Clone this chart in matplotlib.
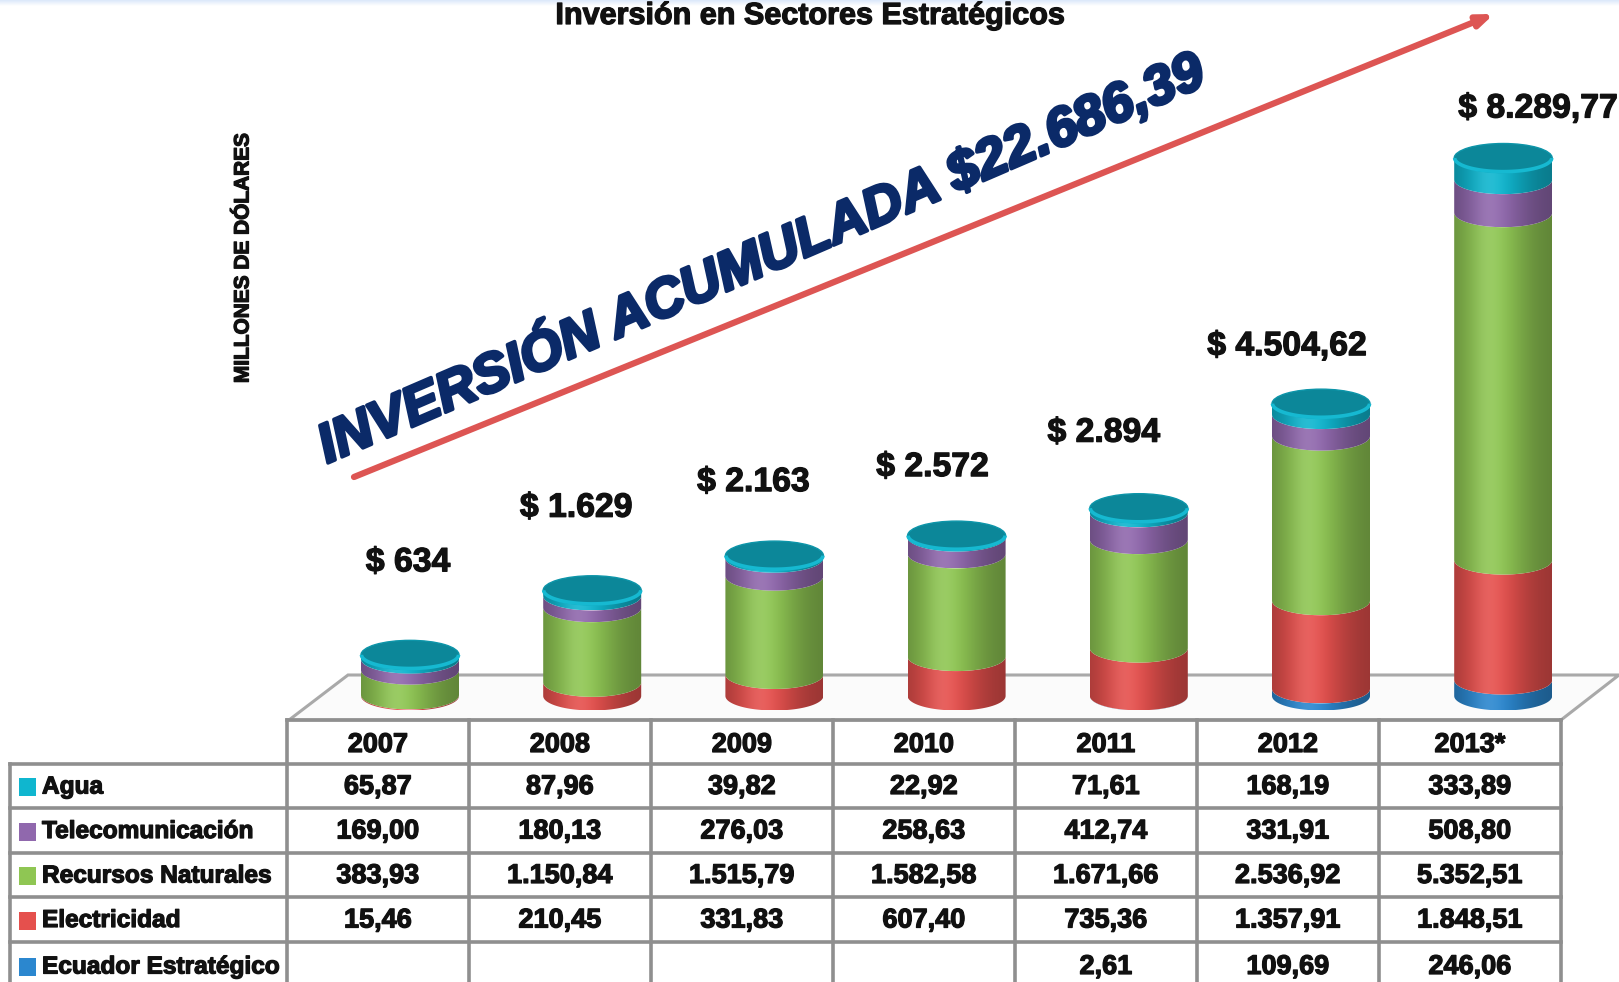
import matplotlib
matplotlib.use('Agg')
import matplotlib.pyplot as plt
import numpy as np
from matplotlib.path import Path
from matplotlib.patches import PathPatch, Ellipse, Polygon, Rectangle
import matplotlib.patheffects as pe

# ---------------- data ----------------
years = ['2007', '2008', '2009', '2010', '2011', '2012', '2013*']
agua = [65.87, 87.96, 39.82, 22.92, 71.61, 168.19, 333.89]
telecom = [169.00, 180.13, 276.03, 258.63, 412.74, 331.91, 508.80]
recursos = [383.93, 1150.84, 1515.79, 1582.58, 1671.66, 2536.92, 5352.51]
electricidad = [15.46, 210.45, 331.83, 607.40, 735.36, 1357.91, 1848.51]
ecuador = [None, None, None, None, 2.61, 109.69, 246.06]
total_labels = ['$ 634', '$ 1.629', '$ 2.163', '$ 2.572', '$ 2.894',
                '$ 4.504,62', '$ 8.289,77']
series_names = ['Agua', 'Telecomunicación', 'Recursos Naturales',
                'Electricidad', 'Ecuador Estratégico']
series_values = [agua, telecom, recursos, electricidad, ecuador]
series_colors = ['#0fb6cf', '#9068ad', '#8fc653', '#e5504d', '#2b87cf']
title = 'Inversión en Sectores Estratégicos'
ylabel = 'MILLONES DE DÓLARES'
big_text = 'INVERSIÓN ACUMULADA $22.686,39'

# --------------- layout ---------------
W, H = 1619, 982
fig = plt.figure(figsize=(W / 100, H / 100), dpi=100)
fig.patch.set_facecolor('white')
pax = fig.add_axes([0, 0, 1, 1])
pax.set_xlim(0, W)
pax.set_ylim(H, 0)
pax.axis('off')

ax = fig.add_axes([0, 0, 1, 1], zorder=2)
ax.patch.set_alpha(0)
ax.axis('off')
X0, DX, Y0, PPU = 410, 182.2, 696, 0.0649

FAM = ['Liberation Sans', 'DejaVu Sans']
heavy = [pe.withStroke(linewidth=0.9, foreground='#111111')]

# faint top band
top = np.linspace(0, 1, 20).reshape(-1, 1)
pax.imshow(np.dstack([0.86 + 0.14 * top, 0.91 + 0.09 * top, 0.98 + 0.02 * top]),
           extent=[0, W, 6, 0], aspect='auto', zorder=0)

# floor
floor = Polygon([(289, 720), (348, 675), (W, 675), (1561, 720)], closed=True,
                facecolor='#fbfbfb', edgecolor='#a9a9a9', lw=2.2, zorder=1)
pax.add_patch(floor)

# ------------- table -------------
tl, lc, cw = 10, 287, 182
row_y = [720, 764, 808, 853, 897, 942, 990]
lc_col = '#8f8f8f'
lw_t = 2.6
pax.plot([lc, lc + cw * 7], [row_y[0], row_y[0]], color=lc_col, lw=lw_t, zorder=3)
for yy in row_y[1:6]:
    pax.plot([tl, lc + cw * 7], [yy, yy], color=lc_col, lw=lw_t, zorder=3)
pax.plot([tl, tl], [row_y[1], H], color=lc_col, lw=lw_t, zorder=3)
for k in range(8):
    xx = lc + cw * k
    pax.plot([xx, xx], [row_y[0], H], color=lc_col, lw=lw_t, zorder=3)


def fmt(v):
    if v is None:
        return ''
    s = f'{v:,.2f}'
    return s.replace(',', 'X').replace('.', ',').replace('X', '.')


tfont = dict(family=FAM, fontweight='bold', color='#111111', path_effects=heavy)
for j, y in enumerate(years):
    pax.text(lc + cw * j + cw / 2, (row_y[0] + row_y[1]) / 2 + 3, y,
             ha='center', va='center', zorder=4, fontsize=19.5, **tfont)
for i, (name, vals, col) in enumerate(zip(series_names, series_values, series_colors)):
    yc = (row_y[i + 1] + row_y[i + 2]) / 2 + 1
    pax.add_patch(Rectangle((19, yc - 9), 17, 18, facecolor=col, edgecolor='none', zorder=4))
    pax.text(42, yc, name, ha='left', va='center', zorder=4, fontsize=17.6, **tfont)
    for j, v in enumerate(vals):
        pax.text(lc + cw * j + cw / 2, yc, fmt(v), ha='center', va='center',
                 zorder=4, fontsize=19.5, **tfont)

# ------------- cylinders -------------
ax.set_xlim(-X0 / DX, (W - X0) / DX)
ax.set_ylim(-(H - Y0) / PPU, Y0 / PPU)
r = 49 / DX
eh = 14.5 / PPU
N = 200
t = np.linspace(0, 1, N)
shade = 0.66 + 0.34 * np.exp(-((t - 0.40) / 0.36) ** 2)
hl = 0.10 * np.exp(-((t - 0.35) / 0.15) ** 2)


def grad(col):
    rgb = np.array(matplotlib.colors.to_rgb(col))
    arr = rgb[None, :] * shade[:, None]
    arr = arr + (1 - arr) * hl[:, None]
    return np.clip(arr, 0, 1)[None, :, :]


theta_low = np.linspace(np.pi, 2 * np.pi, 60)
stack_order = [ecuador, electricidad, recursos, telecom, agua]
stack_colors = [series_colors[4], series_colors[3], series_colors[2],
                series_colors[1], series_colors[0]]
for j in range(len(years)):
    xc = j
    base = 0.0
    for vals, col in zip(stack_order, stack_colors):
        v = vals[j]
        if v is None or v <= 0:
            continue
        y0, y1 = base, base + v
        lower0 = np.column_stack([xc + r * np.cos(theta_low), y0 + eh * np.sin(theta_low)])
        lower1 = np.column_stack([xc + r * np.cos(theta_low[::-1]), y1 + eh * np.sin(theta_low[::-1])])
        verts = np.vstack([lower0, lower1, lower0[:1]])
        patch = PathPatch(Path(verts, closed=True), facecolor='none', edgecolor='none',
                          transform=ax.transData)
        ax.add_patch(patch)
        im = ax.imshow(grad(col), extent=[xc - r, xc + r, y0 - eh, y1], aspect='auto',
                       interpolation='bilinear', zorder=3)
        im.set_clip_path(patch)
        base = y1
    cap = Ellipse((xc, base), 2 * r, 2 * eh, facecolor='#0c8799', edgecolor='#0d95a9',
                  lw=1.0, zorder=4)
    ax.add_patch(cap)
    rim = np.column_stack([xc + r * 0.99 * np.cos(theta_low), base + eh * 0.94 * np.sin(theta_low)])
    ax.plot(rim[:, 0], rim[:, 1], color='#16b9d1', lw=2.6, zorder=4.5,
            solid_capstyle='butt')

ax.set_xlim(-X0 / DX, (W - X0) / DX)
ax.set_ylim(-(H - Y0) / PPU, Y0 / PPU)

# total labels
label_dx = [-2, -16, -21, -24, -35, -34, 35]
label_dy = [92, 82, 73, 68, 75, 57, 49]
for j, lab in enumerate(total_labels):
    tot = sum(v for v in (agua[j], telecom[j], recursos[j], electricidad[j], ecuador[j]) if v)
    ax.annotate(lab, (j, tot), xytext=(label_dx[j], label_dy[j]), textcoords='offset pixels',
                ha='center', va='center', fontsize=24.3, fontweight='bold',
                family=FAM, color='#111111', zorder=5, path_effects=heavy)

# ------------- title, axis label, banner -------------
pax.text(810, 16, title, ha='center', va='center', fontsize=22, fontweight='bold',
         family=FAM, color='#111111', zorder=5, path_effects=heavy)
pax.text(243, 258, ylabel, ha='center', va='center', rotation=90, fontsize=15,
         fontweight='bold', family=FAM, color='#111111', zorder=5, path_effects=heavy)

pax.annotate('', xy=(1494, 14), xytext=(354, 477),
             arrowprops=dict(arrowstyle='-|>,head_length=0.9,head_width=0.35',
                             color='#dd5553', lw=4.5, shrinkA=0, shrinkB=0), zorder=5)

pax.text(761, 258, big_text, ha='center', va='center', rotation=23.3,
         rotation_mode='anchor', fontsize=39.5, fontweight='bold', fontstyle='italic',
         family=FAM, color='#0b2a68', zorder=6,
         path_effects=[pe.withStroke(linewidth=2.5, foreground='#0b2a68')])

fig.savefig('out.png', dpi=100)
